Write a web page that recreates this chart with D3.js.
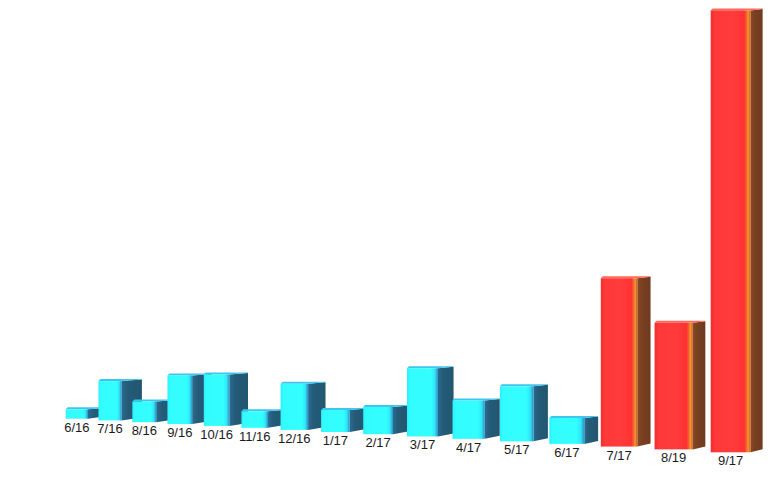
<!DOCTYPE html>
<html><head><meta charset="utf-8">
<script src="https://cdn.jsdelivr.net/npm/d3@7"></script>
<style>html,body{margin:0;padding:0;background:#fff;}svg{display:block;}</style>
</head><body>
<svg id="chart" width="781" height="493"></svg>
<script>
const categories = ["6/16","7/16","8/16","9/16","10/16","11/16","12/16","1/17","2/17","3/17","4/17","5/17","6/17","7/17","8/19","9/17"];
const values = [9.4, 38.0, 19.3, 43.8, 44.7, 13.9, 37.2, 17.1, 20.4, 49.1, 26.5, 36.5, 16.5, 102.6, 73.9, 246.6];
const highlighted = ["7/17","8/19","9/17"];

const W = 781, H = 493;
const svg = d3.select("#chart");
const defs = svg.append("defs");

// perspective depth parameter
const D = 59.8;
const n = categories.length;
const u = i => 1 / (D - i);
const xScale = d3.scaleLinear().domain([u(0), u(n - 1)]).range([65.7, 710.7]);
const baseY = d3.scaleLinear().domain([65.7, 710.7]).range([418.7, 452.3]);
const persp = i => (D * (D - 1)) / ((D - i) * (D - i - 1));
const hScale = d3.scaleLinear().domain([0, 100]).range([0, 100]);

function grad(id, stops) {
  const g = defs.append("linearGradient").attr("id", id).attr("x1", "0%").attr("x2", "100%").attr("y1", "0%").attr("y2", "0%");
  stops.forEach(s => g.append("stop").attr("offset", s[0]).attr("stop-color", s[1]));
}
grad("cyanFront", [["0%", "#2CEFFF"], ["10%", "#33FCFF"], ["78%", "#33FFFF"], ["90%", "#31E4FA"], ["100%", "#2B8FC4"]]);
grad("cyanSide", [["0%", "#2A6C8E"], ["30%", "#245B78"], ["100%", "#235670"]]);
grad("redFront", [["0%", "#F22E2E"], ["12%", "#FF3838"], ["55%", "#FF3B3B"], ["84%", "#FF3232"], ["89%", "#F2602C"], ["94%", "#F4952F"], ["100%", "#C05A22"]]);
grad("redSide", [["0%", "#8A4A24"], ["30%", "#7A4022"], ["100%", "#6E3A1F"]]);

const bars = categories.map((c, i) => {
  const xl = xScale(u(i));
  const xn = xScale(u(i + 1));
  const w = 0.68 * (xn - xl);
  const xr = xl + w;
  const yb = baseY(xl);
  const h = hScale(values[i]) * persp(i);
  const yt = yb - h;
  const d = 21 - 0.6 * i;
  return {c, i, xl, xr, w, yb, yt, d, red: highlighted.includes(c)};
});

const g = svg.append("g");
bars.forEach(b => {
  const bg = g.append("g");
  // side face
  bg.append("path")
    .attr("d", `M${b.xr},${b.yt} L${b.xr + b.d},${b.yt - 1.5} L${b.xr + b.d},${b.yb - 3} L${b.xr},${b.yb} Z`)
    .attr("fill", b.red ? "url(#redSide)" : "url(#cyanSide)");
  // top face
  bg.append("path")
    .attr("d", `M${b.xl},${b.yt} L${b.xl + 2},${b.yt - 2} L${b.xr + b.d},${b.yt - 2} L${b.xr + b.d},${b.yt - 1.5} L${b.xr},${b.yt} Z`)
    .attr("fill", b.red ? "#FF6A5A" : "#3CC6EE");
  // front face
  bg.append("rect")
    .attr("x", b.xl).attr("y", b.yt).attr("width", b.w).attr("height", b.yb - b.yt)
    .attr("fill", b.red ? "url(#redFront)" : "url(#cyanFront)");
  // label
  bg.append("text")
    .attr("x", b.xl + b.w / 2)
    .attr("y", b.yb + 13)
    .attr("text-anchor", "middle")
    .attr("font-family", "'Liberation Sans', Arial, sans-serif")
    .attr("font-size", 13)
    .attr("fill", "#1a1a1a")
    .text(b.c);
});
</script>
</body></html>
